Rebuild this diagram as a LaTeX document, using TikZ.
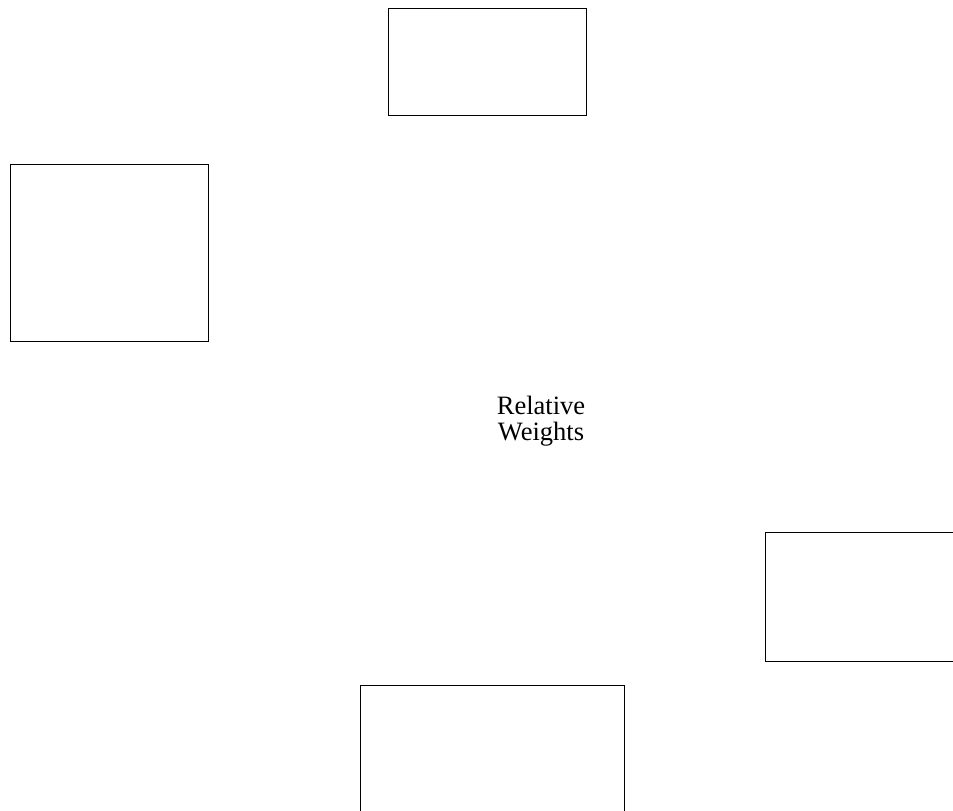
\documentclass[tikz,border=0pt]{standalone}
\usepackage{fontspec}
\setmainfont{Liberation Serif}

\begin{document}
\begin{tikzpicture}[x=1pt, y=-1pt, line width=0.8pt,
    box/.style={rectangle, draw, inner sep=0pt},
    label/.style={align=center, font=\fontsize{26.5}{26}\selectfont}]
    \useasboundingbox (0,0) rectangle (953,811);
    \clip (0,0) rectangle (953,811);
    \node[box, minimum width=198pt, minimum height=107pt] (top) at (487,61.5) {};
    \node[box, minimum width=198pt, minimum height=177pt] (left) at (109,252.5) {};
    \node[box, minimum width=200pt, minimum height=129pt] (right) at (865,596.5) {};
    \node[box, minimum width=264pt, minimum height=150pt] (bottom) at (492,760) {};
    \node[label] (weights) at (541,421) {Relative\\Weights};
\end{tikzpicture}
\end{document}
